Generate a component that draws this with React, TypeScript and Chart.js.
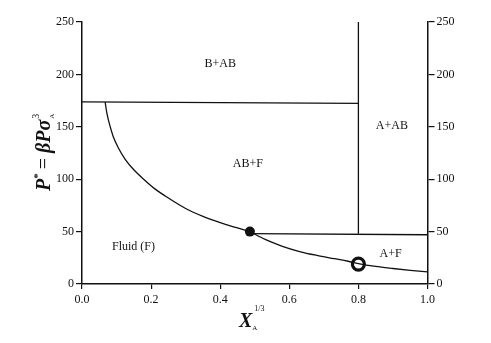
import React, { useEffect, useRef } from "react";
import { Chart, registerables } from "chart.js";

Chart.register(...registerables);

// ---- data ----
const curveLeftX = [0.067, 0.072, 0.08, 0.09, 0.105, 0.125, 0.15, 0.18, 0.21, 0.25, 0.3, 0.35, 0.4, 0.45, 0.486];
const curveLeftP = [173.5, 163, 152, 141, 130, 119, 109, 99.5, 91, 82, 72, 64.5, 58.5, 53.5, 50];
const curveRightX = [0.486, 0.53, 0.58, 0.63, 0.68, 0.73, 0.77, 0.8, 0.85, 0.9, 0.95, 1.0];
const curveRightP = [50, 42.5, 36, 31, 27.3, 24.2, 21.7, 19.5, 16.8, 14.8, 13, 11.5];
const upperLineX = [0, 0.8];
const upperLineP = [173.8, 172.3];
const verticalLineX = [0.8, 0.8];
const verticalLineP = [250, 48];
const lowerLineX = [0.486, 1.0];
const lowerLineP = [48, 47];
const triplePoint = { x: 0.486, y: 50 };
const criticalPoint = { x: 0.8, y: 19 };
const regionNames = ["B+AB", "AB+F", "A+AB", "Fluid (F)", "A+F"];
const regionX = [0.4, 0.48, 0.897, 0.149, 0.893];
const regionP = [210, 114.5, 150.8, 35.3, 29];
const yTicks = [0, 50, 100, 150, 200, 250];
const xTicks = [0, 0.2, 0.4, 0.6, 0.8, 1.0];

const toPts = (xs: number[], ys: number[]) => xs.map((x, i) => ({ x, y: ys[i] }));

const SERIF = "'Liberation Serif', 'Times New Roman', serif";
const INK = "#111";

const regionLabelPlugin = {
  id: "regionLabels",
  afterDatasetsDraw(chart: any) {
    const { ctx, scales } = chart;
    ctx.save();
    ctx.fillStyle = INK;
    ctx.font = `12px ${SERIF}`;
    ctx.textAlign = "center";
    ctx.textBaseline = "middle";
    regionNames.forEach((n, i) => {
      ctx.fillText(n, scales.x.getPixelForValue(regionX[i]), scales.y.getPixelForValue(regionP[i]));
    });
    ctx.restore();
  },
};

const axisTitlePlugin = {
  id: "axisTitles",
  afterDraw(chart: any) {
    const { ctx } = chart;
    ctx.save();
    ctx.fillStyle = INK;
    ctx.textAlign = "left";
    ctx.textBaseline = "alphabetic";
    // Y title, rotated
    ctx.translate(50, 191);
    ctx.rotate(-Math.PI / 2);
    let x = 0;
    const piece = (t: string, font: string, dy: number, advance = true) => {
      ctx.font = font;
      ctx.fillText(t, x, dy);
      const w = ctx.measureText(t).width;
      if (advance) x += w;
      return w;
    };
    piece("P", `italic bold 20px ${SERIF}`, 0);
    piece("*", `bold 11px ${SERIF}`, -9);
    x += 4;
    piece("=", `20px ${SERIF}`, 0);
    x += 5;
    piece("βPσ", `italic bold 20px ${SERIF}`, 0);
    x += 1;
    piece("A", `7px ${SERIF}`, 4, false);
    piece("3", `10px ${SERIF}`, -11);
    ctx.restore();

    // X title
    ctx.save();
    ctx.fillStyle = INK;
    ctx.textBaseline = "alphabetic";
    ctx.font = `italic bold 20px ${SERIF}`;
    ctx.fillText("X", 239, 327);
    const wx = ctx.measureText("X").width;
    ctx.font = `7px ${SERIF}`;
    ctx.fillText("A", 239 + wx, 330);
    ctx.font = `8px ${SERIF}`;
    ctx.fillText("1/3", 239 + wx + 2, 311);
    ctx.restore();
  },
};

export default function App() {
  const ref = useRef<HTMLCanvasElement | null>(null);
  useEffect(() => {
    if (!ref.current) return;
    const lineDs = (data: any[], extra: any = {}) => ({
      data,
      showLine: true,
      borderColor: INK,
      borderWidth: 1.3,
      pointRadius: 0,
      pointHoverRadius: 0,
      fill: false,
      ...extra,
    });
    const tickFont = { family: SERIF, size: 12 };
    const chart = new Chart(ref.current, {
      type: "scatter",
      data: {
        datasets: [
          lineDs(toPts(upperLineX, upperLineP)),
          lineDs(toPts(verticalLineX, verticalLineP)),
          lineDs(toPts(lowerLineX, lowerLineP)),
          lineDs(toPts(curveLeftX, curveLeftP), { cubicInterpolationMode: "monotone" }),
          lineDs(toPts(curveRightX, curveRightP), { cubicInterpolationMode: "monotone" }),
          {
            data: [triplePoint],
            showLine: false,
            pointRadius: 5,
            pointBackgroundColor: INK,
            pointBorderColor: INK,
            pointBorderWidth: 0,
          },
          {
            data: [criticalPoint],
            showLine: false,
            pointRadius: 6,
            pointBackgroundColor: "#fff",
            pointBorderColor: INK,
            pointBorderWidth: 3.2,
          },
        ] as any,
      },
      options: {
        animation: false,
        responsive: false,
        events: [],
        clip: false as any,
        layout: { padding: { top: 22, bottom: 0, left: 0, right: 0 } },
        plugins: { legend: { display: false }, tooltip: { enabled: false }, title: { display: false } },
        scales: {
          x: {
            type: "linear",
            min: 0,
            max: 1,
            afterFit: (s: any) => { s.height = 59; },
            afterBuildTicks: (s: any) => { s.ticks = xTicks.map((v) => ({ value: v })); },
            ticks: { font: tickFont, color: INK, padding: 4, callback: (v: any) => Number(v).toFixed(1) },
            grid: { display: true, drawOnChartArea: false, drawTicks: true, tickLength: 5, color: INK, lineWidth: 1.2 },
            border: { display: true, color: INK, width: 1.5 },
          },
          y: {
            type: "linear",
            position: "left",
            min: 0,
            max: 250,
            afterFit: (s: any) => { s.width = 82; },
            afterBuildTicks: (s: any) => { s.ticks = yTicks.map((v) => ({ value: v })); },
            ticks: { font: tickFont, color: INK, padding: 2 },
            grid: { display: true, drawOnChartArea: false, drawTicks: true, tickLength: 6, color: INK, lineWidth: 1.2 },
            border: { display: true, color: INK, width: 1.5 },
          },
          y2: {
            type: "linear",
            position: "right",
            min: 0,
            max: 250,
            afterFit: (s: any) => { s.width = 63.5; },
            afterBuildTicks: (s: any) => { s.ticks = yTicks.map((v) => ({ value: v })); },
            ticks: { font: tickFont, color: INK, padding: 2 },
            grid: { display: true, drawOnChartArea: false, drawTicks: true, tickLength: 7, color: INK, lineWidth: 1.2 },
            border: { display: true, color: INK, width: 1.5 },
          },
        },
      } as any,
      plugins: [regionLabelPlugin, axisTitlePlugin],
    });
    return () => chart.destroy();
  }, []);
  return (
    <div style={{ position: "absolute", left: 0, top: 0, width: 491, height: 343, background: "#fff" }}>
      <canvas ref={ref} width={491} height={343} style={{ display: "block" }} />
    </div>
  );
}
